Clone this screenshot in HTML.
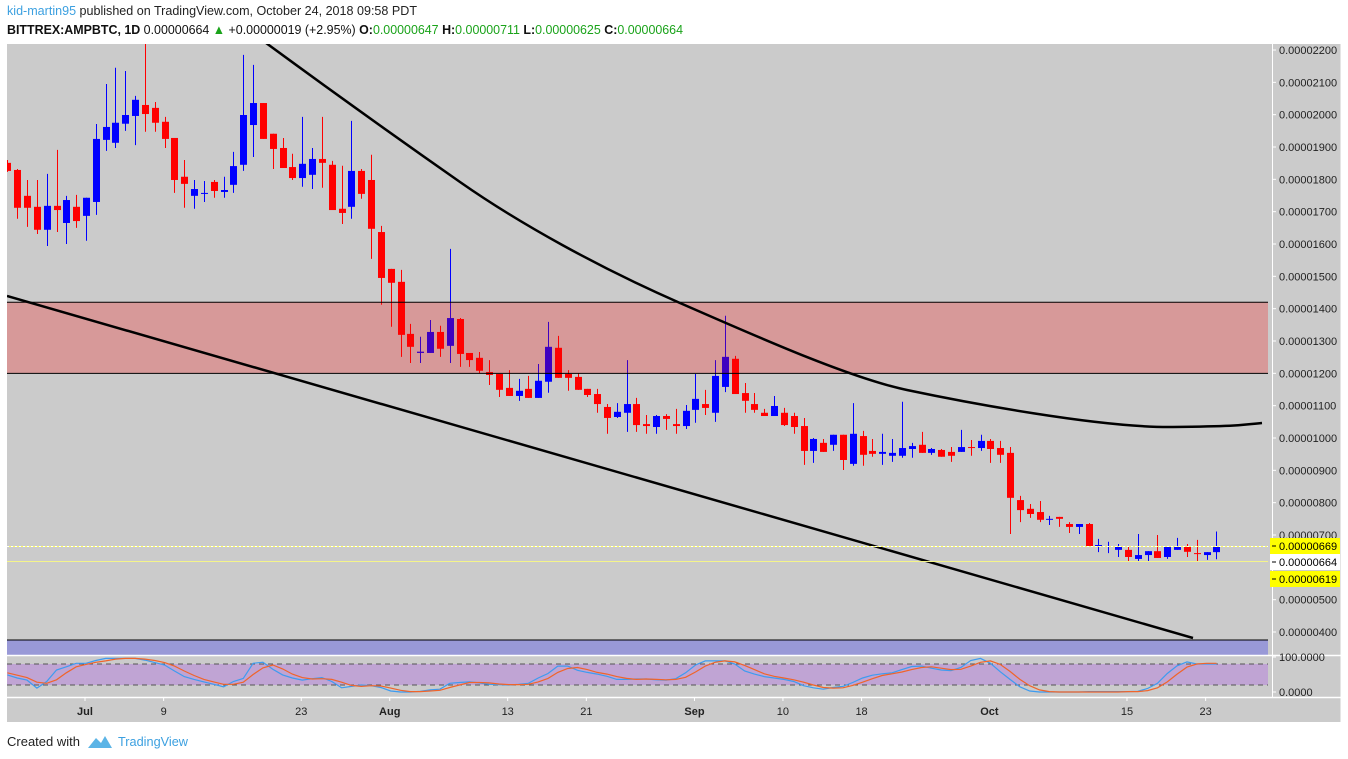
<!DOCTYPE html>
<html><head><meta charset="utf-8"><style>
html,body{margin:0;padding:0;background:#fff;}
svg{display:block;font-family:"Liberation Sans",sans-serif;}
</style></head><body>
<svg id="chart" width="1348" height="759" viewBox="0 0 1348 759" xmlns="http://www.w3.org/2000/svg">
<defs><clipPath id="plotclip"><rect x="7" y="44" width="1261" height="611"/></clipPath></defs>
<rect x="0" y="0" width="1348" height="759" fill="#ffffff"/>
<text x="7" y="15" font-size="13" textLength="410" lengthAdjust="spacingAndGlyphs" fill="#222"><tspan fill="#3ca0e0">kid-martin95</tspan> published on TradingView.com, October 24, 2018 09:58 PDT</text>
<text x="7" y="34" font-size="13" textLength="676" lengthAdjust="spacingAndGlyphs" fill="#111"><tspan font-weight="bold">BITTREX:AMPBTC, 1D</tspan> 0.00000664 <tspan fill="#1aa31a">▲</tspan> +0.00000019 (+2.95%) <tspan font-weight="bold">O:</tspan><tspan fill="#1aa31a">0.00000647</tspan> <tspan font-weight="bold">H:</tspan><tspan fill="#1aa31a">0.00000711</tspan> <tspan font-weight="bold">L:</tspan><tspan fill="#1aa31a">0.00000625</tspan> <tspan font-weight="bold">C:</tspan><tspan fill="#1aa31a">0.00000664</tspan></text>
<rect x="7" y="44" width="1334" height="678" fill="#cbcbcb"/>
<g id="candles" clip-path="url(#plotclip)"></g>
<g id="overlays" clip-path="url(#plotclip)"></g>
<g id="stoch"></g>
<g id="axes"></g>
<text x="7" y="746" font-size="13" textLength="73" lengthAdjust="spacingAndGlyphs" fill="#222">Created with</text>
<g>
<path d="M88 748 L96 738 L101 743 L105 736 L112 748 Z" fill="#5bb4e6"/>
<text x="118" y="746" font-size="13" textLength="70" lengthAdjust="spacingAndGlyphs" fill="#3ca0e0">TradingView</text>
</g>
</svg>
<script>
const opens =[1851,1829,1749,1715,1644,1718,1665,1715,1687,1730,1922,1913,1972,1996,2030,2021,1978,1928,1808,1749,1755,1792,1761,1783,1845,1968,2036,1941,1897,1838,1804,1814,1863,1845,1709,1715,1826,1798,1637,1523,1483,1322,1263,1263,1328,1285,1368,1263,1248,1204,1198,1155,1130,1152,1124,1174,1279,1198,1189,1152,1136,1096,1065,1078,1105,1043,1034,1068,1043,1037,1087,1105,1078,1158,1245,1139,1105,1078,1068,1078,1068,1037,960,985,979,1010,920,1006,960,951,945,945,966,979,954,963,957,957,972,969,991,969,954,808,781,771,747,756,734,725,734,666,666,654,654,626,638,650,632,654,663,644,638,647];
const highs =[1860,1832,1798,1798,1817,1891,1749,1752,1743,1971,2095,2145,2135,2058,2219,2039,1993,1928,1860,1798,1795,1798,1808,1885,2185,2154,2036,1941,1928,1879,1993,1897,1993,1857,1842,1981,1832,1876,1656,1523,1520,1353,1313,1365,1347,1585,1371,1263,1266,1241,1198,1210,1183,1192,1229,1359,1316,1210,1201,1152,1152,1105,1108,1241,1124,1071,1071,1074,1090,1102,1198,1149,1241,1378,1254,1170,1139,1090,1130,1093,1078,1062,1000,997,1010,1010,1108,1022,997,1013,997,1112,985,1019,969,966,972,1025,994,1010,997,991,972,821,796,805,759,756,740,734,737,688,679,672,663,703,650,700,666,691,672,685,647,711];
const lows  =[1823,1678,1653,1631,1594,1637,1600,1650,1610,1690,1888,1897,1950,1906,1947,1947,1897,1758,1712,1709,1730,1743,1743,1758,1826,1869,1925,1832,1835,1798,1777,1770,1774,1705,1662,1678,1740,1554,1412,1344,1251,1232,1232,1263,1251,1232,1220,1220,1201,1164,1127,1130,1115,1124,1124,1140,1186,1146,1149,1127,1078,1013,1062,1019,1019,1013,1013,1025,1013,1028,1047,1071,1050,1142,1136,1078,1078,1068,1068,1037,1013,917,923,957,960,901,914,914,942,917,926,939,939,954,948,942,926,957,945,960,923,923,703,740,753,740,731,725,706,703,666,647,644,632,619,619,619,629,626,654,632,619,623,625];
const closes=[1826,1712,1712,1644,1718,1705,1736,1671,1743,1925,1962,1975,1999,2046,2002,1975,1925,1798,1786,1770,1758,1764,1767,1841,1999,2036,1925,1894,1835,1804,1848,1863,1851,1705,1696,1826,1755,1647,1495,1480,1319,1282,1267,1328,1276,1371,1260,1241,1208,1195,1149,1130,1146,1124,1177,1282,1186,1186,1149,1133,1105,1062,1081,1105,1040,1037,1068,1059,1037,1084,1121,1093,1192,1251,1136,1115,1087,1068,1099,1040,1034,960,997,957,1010,932,1013,948,951,957,954,969,975,954,966,942,945,972,969,991,966,948,815,777,765,747,750,750,725,734,666,669,666,663,632,638,650,629,666,666,648,641,647,664];
const stochK=[49,40,34,11,30,63,72,82,82,90,96,96,96,96,91,84,77,60,44,36,29,22,15,30,39,82,85,65,49,40,34,38,41,30,12,16,20,18,13,3,0,0,2,6,8,25,27,29,26,22,21,20,22,25,40,53,74,74,62,56,51,45,36,36,37,37,35,34,38,55,77,89,89,89,80,60,51,44,40,36,30,18,12,8,13,16,27,40,48,52,55,64,73,74,68,63,61,70,90,96,82,58,36,15,3,0,0,0,0,0,1,1,1,1,1,2,10,25,53,75,86,80,80,80];
const stochD=[55,48,41,28,25,35,55,72,79,85,89,94,96,96,94,90,84,74,60,47,36,29,22,22,28,50,69,77,66,51,41,37,38,36,28,19,16,18,17,11,5,1,1,3,5,13,20,27,27,26,23,21,21,22,29,39,56,67,70,64,56,51,44,39,36,37,36,35,36,42,57,74,85,89,86,76,64,52,45,40,35,28,20,13,11,12,19,28,38,47,52,57,64,70,72,68,64,65,74,85,89,79,59,36,18,6,1,0,0,0,0,0,0,0,1,1,4,12,29,51,71,80,82,82];
const priceTicks=[2200,2100,2000,1900,1800,1700,1600,1500,1400,1300,1200,1100,1000,900,800,700,500,400];
const dateLabels=["Jul","9","23","Aug","13","21","Sep","10","18","Oct","15","23"];
const dateDays=[0,8,22,31,43,51,62,71,79,92,106,114];
const dateBold=[true,false,false,true,false,false,true,false,false,true,false,false];
const zoneTop=1420, zoneBottom=1200;

const NS="http://www.w3.org/2000/svg";
const yP=p=>632-(p-400)*0.32333;
const xD=d=>85+d*9.83;
const xI=i=>xD(i-8)+1;
const yS=v=>692-v*0.35;
function mk(tag,attrs,parent){const e=document.createElementNS(NS,tag);for(const k in attrs)e.setAttribute(k,attrs[k]);parent.appendChild(e);return e;}

const candles=document.getElementById('candles');
const ov=document.getElementById('overlays');
const st=document.getElementById('stoch');
const ax=document.getElementById('axes');

for(let i=0;i<opens.length;i++){
  const up=closes[i]>=opens[i];
  const col=up?'#0000ff':'#ff0000';
  const x=Math.round(xI(i))+0.5;
  const g=mk('g',{},candles);
  
  
  mk('line',{x1:x,x2:x,y1:yP(highs[i]),y2:yP(lows[i]),stroke:col,'stroke-width':1},g);
  const t=yP(Math.max(opens[i],closes[i])),b=yP(Math.min(opens[i],closes[i]));
  mk('rect',{x:x-3.5,y:t,width:7,height:Math.max(1,b-t),fill:col},g);
}

const zy1=yP(zoneTop), zy2=yP(zoneBottom);
const z=mk('rect',{x:7,y:zy1,width:1261,height:zy2-zy1,fill:'rgba(252,4,4,0.25)'},ov);


let l=mk('line',{x1:7,x2:1268,y1:zy1,y2:zy1,stroke:'#000','stroke-width':1},ov);


l=mk('line',{x1:7,x2:1268,y1:zy2,y2:zy2,stroke:'#000','stroke-width':1},ov);



const tl=mk('line',{x1:7,y1:296,x2:1193,y2:638,stroke:'#000','stroke-width':2.5},ov);


const cv=mk('path',{d:'M262 40 C 330 90, 400 140, 460 182 S 600 268, 680 303 S 850 378, 907 390 S 1100 428, 1173 427 S 1240 425, 1262 423',fill:'none',stroke:'#000','stroke-width':2.5},ov);



const bb=mk('rect',{x:7,y:640,width:1261,height:15,fill:'rgba(4,4,252,0.25)'},ov);


mk('line',{x1:7,x2:1268,y1:640,y2:640,stroke:'#000','stroke-width':1},ov);

let pl=mk('line',{x1:7,x2:1268,y1:546.5,y2:546.5,stroke:'#ffff60','stroke-width':1},ov);


mk('line',{x1:7,x2:1268,y1:546.5,y2:546.5,stroke:'#fff','stroke-width':1,'stroke-dasharray':'2,2'},ov);
pl=mk('line',{x1:7,x2:1268,y1:561.5,y2:561.5,stroke:'#f4f48a','stroke-width':1},ov);



mk('line',{x1:7,x2:1341,y1:655.5,y2:655.5,stroke:'#fff','stroke-width':1.5},st);
const sb=mk('rect',{x:7,y:yS(80),width:1261,height:yS(20)-yS(80),fill:'#c0a4d4'},st);


mk('line',{x1:7,x2:1268,y1:yS(80),y2:yS(80),stroke:'#555','stroke-width':1,'stroke-dasharray':'5,4'},st);
mk('line',{x1:7,x2:1268,y1:yS(20),y2:yS(20),stroke:'#555','stroke-width':1,'stroke-dasharray':'5,4'},st);
let ptsK=stochK.map((v,i)=>Math.max(7,xI(i)).toFixed(1)+','+yS(v).toFixed(1)).join(' ');
let ptsD=stochD.map((v,i)=>Math.max(7,xI(i)).toFixed(1)+','+yS(v).toFixed(1)).join(' ');
const pk=mk('polyline',{points:ptsK,fill:'none',stroke:'#3d9bf0','stroke-width':1.2},st);


const pd=mk('polyline',{points:ptsD,fill:'none',stroke:'#f0642a','stroke-width':1.2},st);


mk('line',{x1:7,x2:1341,y1:697.5,y2:697.5,stroke:'#fff','stroke-width':1.5},st);

mk('line',{x1:1272.5,x2:1272.5,y1:44,y2:697,stroke:'#fff','stroke-width':1},ax);
mk('line',{x1:1341,x2:1341,y1:44,y2:722,stroke:'#fff','stroke-width':1},ax);
priceTicks.forEach(p=>{
  const y=yP(p);
  mk('line',{x1:1272,x2:1276,y1:y,y2:y,stroke:'#fff'},ax);
  const t=mk('text',{x:1279,y:y+4,'font-size':11,fill:'#222'},ax);
  
  
  t.textContent=(p/1e8).toFixed(8);
});
function tag(y,txt,bg,name){
  const g=mk('g',{},ax);
  
  
  mk('rect',{x:1270,y:y-8,width:70,height:16,fill:bg},g);
  mk('line',{x1:1272,x2:1276,y1:y,y2:y,stroke:'#000'},g);
  const t=mk('text',{x:1279,y:y+4,'font-size':11,fill:'#000'},g);
  t.textContent=txt;
}
tag(546,'0.00000669','#ffff00','bid-price-tag');
tag(562,'0.00000664','#ffffff','last-price-tag');
tag(579,'0.00000619','#ffff00','ask-price-tag');
[[100,'100.0000'],[0,'0.0000']].forEach(([v,s])=>{
  const y=yS(v);
  mk('line',{x1:1272,x2:1276,y1:y,y2:y,stroke:'#fff'},ax);
  const t=mk('text',{x:1279,y:y+4,'font-size':11,fill:'#222'},ax);
  
  
  t.textContent=s;
});
dateLabels.forEach((s,k)=>{
  const x=xD(dateDays[k]);
  mk('line',{x1:x,x2:x,y1:697,y2:701,stroke:'#fff'},ax);
  const t=mk('text',{x:x,y:715,'font-size':11,'text-anchor':'middle',fill:'#222','font-weight':dateBold[k]?'bold':'normal'},ax);
  
  
  t.textContent=s;
});
</script>
</body></html>
